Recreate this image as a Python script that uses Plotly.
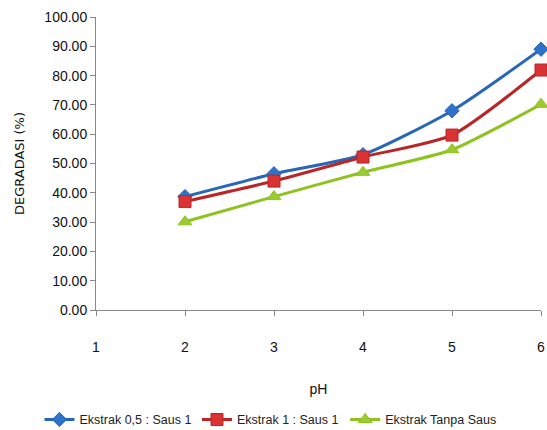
import plotly.graph_objects as go

ph = [2, 3, 4, 5, 6]
ekstrak_05 = [38.7, 46.5, 53.0, 68.0, 89.0]
ekstrak_1 = [37.0, 44.0, 52.2, 59.7, 81.9]
tanpa_saus = [30.1, 38.7, 47.0, 54.7, 70.2]

x_ticks = [1, 2, 3, 4, 5, 6]
y_ticks = [0, 10, 20, 30, 40, 50, 60, 70, 80, 90, 100]

font_main = "Liberation Sans, Arial, sans-serif"

fig = go.Figure()
series = [
    ("Ekstrak 0,5 : Saus 1", ekstrak_05, "#2867B8", "#2E73C9", "diamond", 11, "legend", -0.127),
    ("Ekstrak 1 : Saus 1", ekstrak_1, "#B82628", "#D93333", "square", 12, "legend2", 0.227),
    ("Ekstrak Tanpa Saus", tanpa_saus, "#8DC21F", "#9BCB2E", "triangle-up", 12, "legend3", 0.56),
]
legend_layout = {}
for name, vals, lc, mc, sym, ms, lg, lx in series:
    fig.add_trace(go.Scatter(
        x=ph, y=vals, name=name, mode="lines+markers",
        line=dict(color=lc, width=3, shape="spline", smoothing=0.6),
        marker=dict(symbol=sym, size=ms, color=mc, line=dict(color=lc, width=1)),
        cliponaxis=False, legend=lg,
    ))
    legend_layout[lg] = dict(orientation="h", x=lx, xanchor="left", y=-0.375, yanchor="middle",
                             font=dict(family=font_main, size=12.5, color="#222"),
                             itemwidth=30, bgcolor="rgba(0,0,0,0)")

fig.update_layout(
    width=547, height=430,
    margin=dict(l=96, r=6, t=17, b=120, autoexpand=False),
    paper_bgcolor="white", plot_bgcolor="white",
    showlegend=True,
    xaxis=dict(range=[1, 6], tickvals=x_ticks, showgrid=False, zeroline=False,
               showline=True, linecolor="#888", linewidth=1,
               ticks="outside", ticklen=5, tickcolor="#888",
               ticklabelstandoff=19, automargin=False,
               tickfont=dict(family=font_main, size=14, color="#111"),
               title=dict(text="pH", font=dict(family=font_main, size=14, color="#111"),
                          standoff=30)),
    yaxis=dict(range=[0, 100], tickvals=y_ticks, tickformat=".2f", showgrid=False,
               zeroline=False, showline=True, linecolor="#888", linewidth=1,
               ticks="outside", ticklen=5, tickcolor="#888", automargin=False,
               tickfont=dict(family=font_main, size=14, color="#111"),
               title=dict(text="DEGRADASI (%)", font=dict(family="DejaVu Sans, Verdana, sans-serif", size=13, color="#111"),
                          standoff=16)),
)
fig.update_layout(**legend_layout)

fig.write_html("out.html")
